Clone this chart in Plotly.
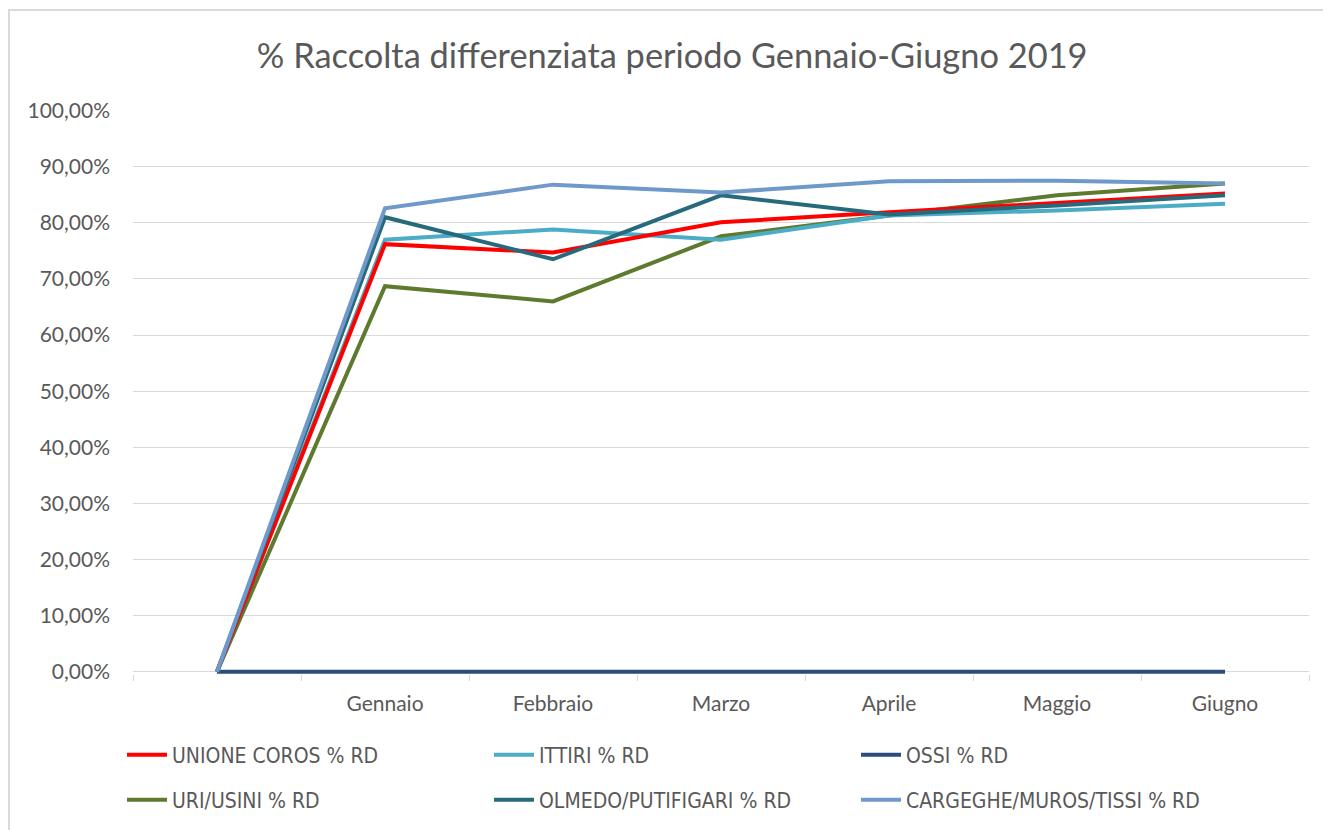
import plotly.graph_objects as go

categories = [" ", "Gennaio", "Febbraio", "Marzo", "Aprile", "Maggio", "Giugno"]

unione_coros = [0.0, 0.762, 0.747, 0.801, 0.819, 0.836, 0.852]
ittiri = [0.0, 0.770, 0.788, 0.770, 0.813, 0.822, 0.834]
ossi = [0.0, 0.0, 0.0, 0.0, 0.0, 0.0, 0.0]
uri_usini = [0.0, 0.687, 0.660, 0.776, 0.813, 0.849, 0.870]
olmedo = [0.0, 0.810, 0.735, 0.849, 0.815, 0.831, 0.849]
cargeghe = [0.0, 0.826, 0.868, 0.854, 0.874, 0.875, 0.870]

series = [
    ("UNIONE COROS % RD", unione_coros, "#FF0000", "legend"),
    ("ITTIRI % RD", ittiri, "#4BACC6", "legend"),
    ("OSSI % RD", ossi, "#2A4D7C", "legend"),
    ("URI/USINI % RD", uri_usini, "#5E7A2F", "legend2"),
    ("OLMEDO/PUTIFIGARI % RD", olmedo, "#276A7C", "legend2"),
    ("CARGEGHE/MUROS/TISSI % RD", cargeghe, "#6F98CB", "legend2"),
]
draw_order = [2, 3, 1, 0, 4, 5]

fig = go.Figure()
for i in draw_order:
    name, vals, col, leg = series[i]
    fig.add_trace(go.Scatter(
        x=categories, y=vals, name=name, mode="lines",
        line=dict(color=col, width=4), legendrank=i, legend=leg,
    ))

PB = 674   # screen y of plot bottom
PH = 564   # plot height

legend_font = dict(family="DejaVu Sans Condensed, Liberation Sans", size=21, color="#595959")
legend_common = dict(orientation="h", x=-11 / 1176, xanchor="left", yanchor="middle",
                     entrywidth=312, entrywidthmode="pixels", traceorder="normal",
                     font=legend_font, itemwidth=40, bgcolor="rgba(0,0,0,0)")

fig.update_layout(
    template="none",
    width=1331, height=830,
    margin=dict(l=125, r=30, t=102, b=164, autoexpand=False),
    paper_bgcolor="white", plot_bgcolor="white",
    separators=",.",
    title=dict(text="% Raccolta differenziata periodo Gennaio-Giugno 2019",
               x=0.499, xanchor="center", y=0.942, yanchor="middle",
               font=dict(family="Lato", size=34.4, color="#595959")),
    font=dict(family="Lato", color="#595959"),
    legend=dict(y=(PB - 755) / PH, **legend_common),
    legend2=dict(y=(PB - 800) / PH, **legend_common),
    showlegend=True,
)
fig.update_xaxes(
    type="category", categoryorder="array", categoryarray=categories,
    range=[-0.5, 6.5], automargin=False,
    showgrid=False, showline=False,
    ticks="outside", tickson="boundaries", ticklen=6, tickcolor="#D9D9D9",
    tickfont=dict(size=21, color="#595959"), ticklabelstandoff=15,
    zeroline=False,
)
fig.update_yaxes(
    range=[-0.004, 1.001], tickvals=[i / 10 for i in range(11)], tickformat=".2%",
    automargin=False,
    showgrid=True, gridcolor="#D9D9D9", gridwidth=1, zeroline=False,
    showline=False, ticks="", tickfont=dict(size=21, color="#595959"), ticklabelstandoff=22,
)
fig.add_shape(type="rect", xref="paper", yref="paper",
              x0=(9 - 133) / 1176, x1=1.05, y0=-0.35, y1=(PB - 10) / PH,
              line=dict(color="#D9D9D9", width=2), fillcolor="rgba(0,0,0,0)", layer="below")

fig.write_html("out.html")
